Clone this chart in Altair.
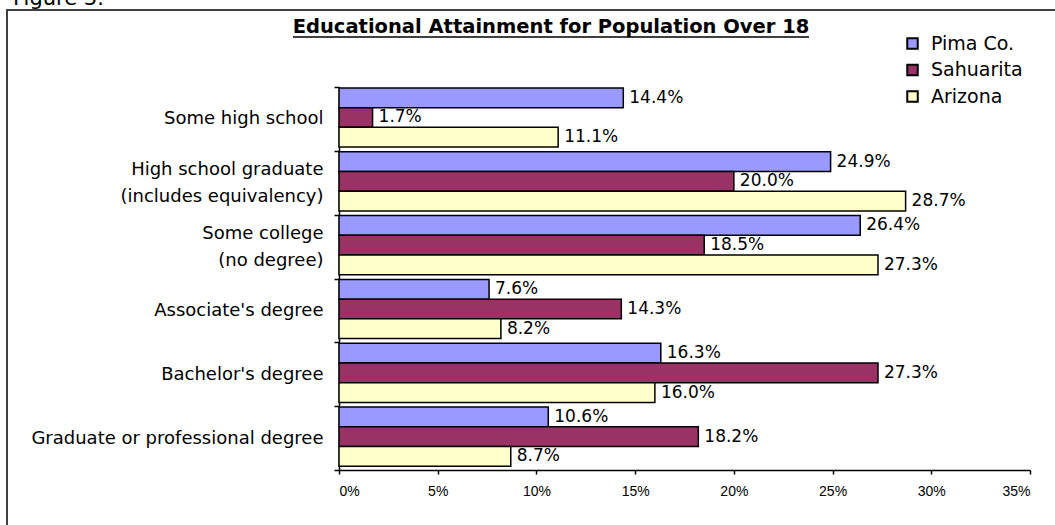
import altair as alt
import pandas as pd

categories = ["Some high school", "High school graduate|(includes equivalency)",
              "Some college|(no degree)", "Associate's degree",
              "Bachelor's degree", "Graduate or professional degree"]
series = ["Pima Co.", "Sahuarita", "Arizona"]
pima = [14.4, 24.9, 26.4, 7.6, 16.3, 10.6]
sahuarita = [1.7, 20.0, 18.5, 14.3, 27.3, 18.2]
arizona = [11.1, 28.7, 27.3, 8.2, 16.0, 8.7]
colors = ["#9999FF", "#993366", "#FFFFCC"]
x_ticks = [0, 5, 10, 15, 20, 25, 30, 35]

rows = []
for name, vals in zip(series, [pima, sahuarita, arizona]):
    for c, v in zip(categories, vals):
        rows.append({"cat": c, "series": name, "value": v})
df = pd.DataFrame(rows)

FONT = "DejaVu Sans"
W, H = 691, 383

x_enc = alt.X("value:Q", scale=alt.Scale(domain=[0, 35], nice=False),
              axis=alt.Axis(title=None, values=x_ticks, labelExpr="datum.value + '%'",
                            grid=False, tickSize=4, tickColor="black", domainColor="black",
                            domainWidth=1.5, tickWidth=1.5, labelFontSize=14,
                            labelFont="Liberation Sans", labelColor="black",
                            labelPadding=10))

base = alt.Chart(df).encode(
    x=x_enc,
    y=alt.Y("cat:N", sort=categories,
            scale=alt.Scale(paddingInner=0, paddingOuter=0),
            axis=alt.Axis(title=None, labelExpr="split(datum.label, '|')",
                          labelFontSize=18, labelFont=FONT, labelColor="black",
                          labelLineHeight=27,
                          labelOffset={"expr": "indexof(datum.label, '|') >= 0 ? -13.5 : 0"},
                          labelPadding=11, labelLimit=400,
                          tickBand="extent", tickSize=5, tickColor="black",
                          domainColor="black", domainWidth=1.5, tickWidth=1.5)),
    yOffset=alt.YOffset("series:N", sort=series,
                        scale=alt.Scale(paddingInner=0, paddingOuter=0.12, align=0.2)),
)

bars = base.mark_bar(stroke="black", strokeWidth=1.5).encode(
    color=alt.Color("series:N", sort=series,
                    scale=alt.Scale(domain=series, range=colors),
                    legend=alt.Legend(title=None, orient="none", legendX=564, legendY=-53,
                                      symbolType="square", symbolSize=110,
                                      symbolStrokeColor="black", symbolStrokeWidth=2,
                                      labelFontSize=19, labelFont=FONT, labelColor="black",
                                      rowPadding=6.5, padding=0, labelOffset=9)),
)

labels = base.mark_text(align="left", baseline="middle", dx=6, fontSize=17,
                        font=FONT, color="black").transform_calculate(
    lab="format(datum.value, '.1f') + '%'"
).encode(text="lab:N")

one = pd.DataFrame({"a": [0]})
title = alt.Chart(one).mark_text(text="Educational Attainment for Population Over 18",
                                 align="center", baseline="alphabetic", fontSize=19.5,
                                 fontWeight="bold", font=FONT, color="black").encode(
    x=alt.value(212), y=alt.value(-54))
underline = alt.Chart(one).mark_rule(color="black", strokeWidth=1.5).encode(
    x=alt.value(-46), x2=alt.value(470), y=alt.value(-50))
fig = alt.Chart(one).mark_text(text="Figure 3.", align="left", baseline="alphabetic",
                               fontSize=21, font=FONT, color="black").encode(
    x=alt.value(-326), y=alt.value(-82))
frame = alt.Chart(one).mark_rect(fillOpacity=0, stroke="#404040", strokeWidth=2).encode(
    x=alt.value(-332), x2=alt.value(731), y=alt.value(-77), y2=alt.value(460))

chart = alt.layer(frame, bars, labels, title, underline, fig).properties(
    width=W, height=H,
    autosize=alt.AutoSizeParams(type="none"),
    padding={"left": 339, "top": 87, "right": 25, "bottom": 55},
    background="white",
).configure_view(stroke=None).configure_axisX(
    labelFontSize=14, labelFont="Liberation Sans", labelColor="black"
)

chart.save("out.html", embed_options={"renderer": "svg", "actions": False})
